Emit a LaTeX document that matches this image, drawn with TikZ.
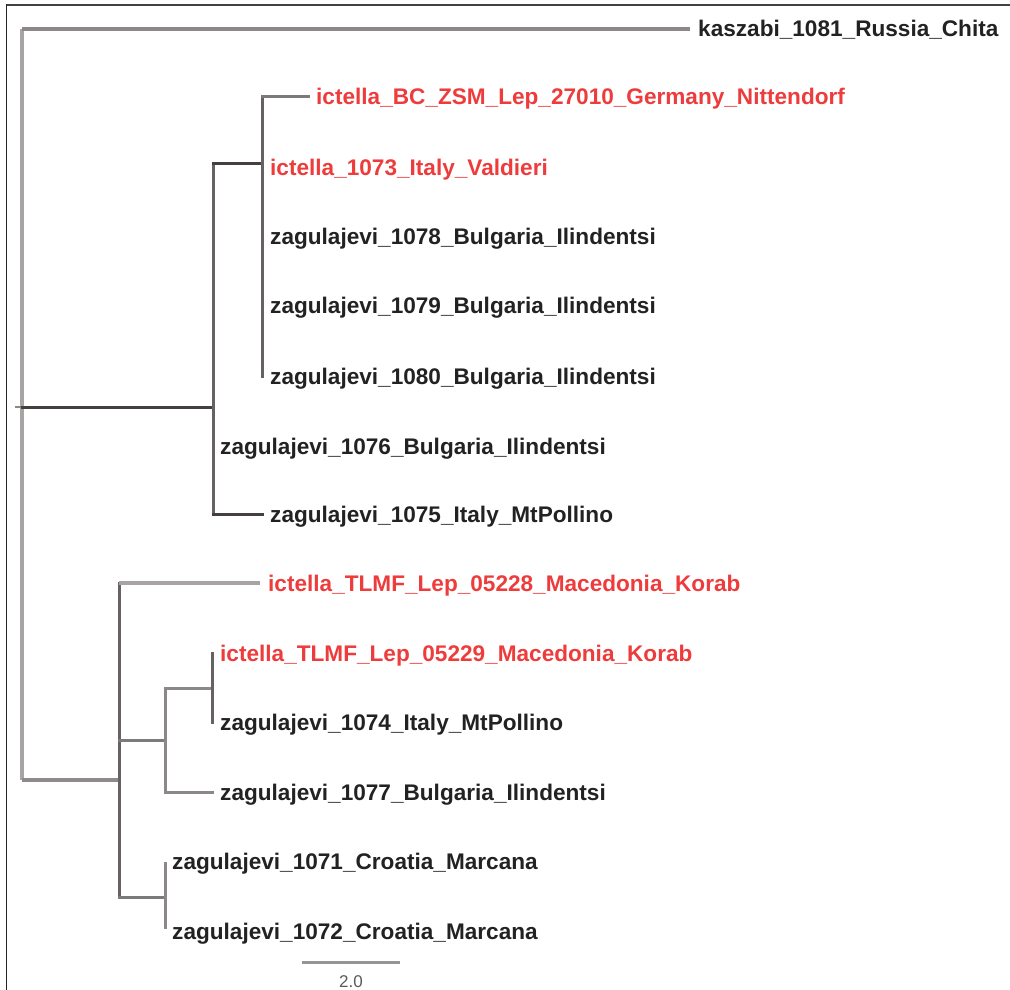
\documentclass[tikz,border=0pt]{standalone}
\usepackage{fontspec}
\setmainfont{Liberation Sans}
\definecolor{tred}{HTML}{EE3B3B}
\definecolor{ttxt}{HTML}{222222}
\definecolor{lgray}{HTML}{A8A4A4}
\definecolor{mgray}{HTML}{8C8888}
\definecolor{dgray}{HTML}{666262}
\definecolor{vdark}{HTML}{444040}
\tikzset{
  br/.style={line width=3pt, line cap=rect},
  leaf/.style={anchor=base west, inner sep=0pt, text=ttxt, font=\fontsize{22.6}{26}\selectfont\bfseries},
  rleaf/.style={leaf, text=tred},
}
\begin{document}
\begin{tikzpicture}[x=1pt,y=-1pt]
\useasboundingbox (0,0) rectangle (1010,990);
% frame
\draw[line width=1.5pt, color=vdark] (6.5,5) -- (1010,5);
\draw[line width=1.8pt, color=black!85] (6.5,4.5) -- (6.5,990);
% internal nodes
\coordinate (stub) at (15,407);
\coordinate (root) at (22,407);
\coordinate (A) at (213,407);
\coordinate (A1) at (262,163);
\coordinate (B) at (119,780);
\coordinate (B1) at (165,740);
\coordinate (B11) at (212,688);
\coordinate (B2) at (165,897);
% leaf tips
\coordinate (tK) at (690,29);
\coordinate (tBC) at (308,97);
\coordinate (t1073) at (262,167);
\coordinate (t1080) at (262,376);
\coordinate (t1076) at (213,446);
\coordinate (t1075) at (262,514);
\coordinate (t05228) at (260,583);
\coordinate (t05229) at (212,653);
\coordinate (t1074) at (212,722);
\coordinate (t1077) at (212,792);
\coordinate (t1071) at (165,863);
\coordinate (t1072) at (165,927);
% labels
\node[leaf]  (lK)     at (698,37)  {kaszabi\_1081\_Russia\_Chita};
\node[rleaf] (lBC)    at (316,105) {ictella\_BC\_ZSM\_Lep\_27010\_Germany\_Nittendorf};
\node[rleaf] (l1073)  at (270,175) {ictella\_1073\_Italy\_Valdieri};
\node[leaf]  (l1078)  at (270,244) {zagulajevi\_1078\_Bulgaria\_Ilindentsi};
\node[leaf]  (l1079)  at (270,313) {zagulajevi\_1079\_Bulgaria\_Ilindentsi};
\node[leaf]  (l1080)  at (270,384) {zagulajevi\_1080\_Bulgaria\_Ilindentsi};
\node[leaf]  (l1076)  at (220,454) {zagulajevi\_1076\_Bulgaria\_Ilindentsi};
\node[leaf]  (l1075)  at (270,522) {zagulajevi\_1075\_Italy\_MtPollino};
\node[rleaf] (l05228) at (268,591) {ictella\_TLMF\_Lep\_05228\_Macedonia\_Korab};
\node[rleaf] (l05229) at (220,661) {ictella\_TLMF\_Lep\_05229\_Macedonia\_Korab};
\node[leaf]  (l1074)  at (220,730) {zagulajevi\_1074\_Italy\_MtPollino};
\node[leaf]  (l1077)  at (220,800) {zagulajevi\_1077\_Bulgaria\_Ilindentsi};
\node[leaf]  (l1071)  at (172,869) {zagulajevi\_1071\_Croatia\_Marcana};
\node[leaf]  (l1072)  at (172,939) {zagulajevi\_1072\_Croatia\_Marcana};
% root
\draw[line width=4pt, color=lgray] (root |- tK) -- (root |- B);
\draw[line width=2.5pt, color=mgray] (stub) -- (root);
\draw[line width=3.5pt, color=mgray] (root |- tK) -- (tK);
\draw[br, color=vdark] (root) -- (A);
\draw[line width=3.5pt, color=lgray!85!black] (root |- B) -- (B);
% clade A
\draw[br, color=dgray] (A |- A1) -- (A |- t1075);
\draw[br, color=vdark] (A |- A1) -- (A1);
\draw[br, color=vdark] (A |- t1075) -- (t1075);
\draw[br, color=dgray] (A1 |- tBC) -- (t1080);
\draw[br, color=dgray!85] (A1 |- tBC) -- (tBC);
% clade B
\draw[br, color=dgray] (B |- t05228) -- (B |- B2);
\draw[line width=4pt, color=lgray] (B |- t05228) -- (t05228);
\draw[br, color=dgray!85] (B |- B1) -- (B1);
\draw[br, color=mgray] (B1 |- B11) -- (B1 |- t1077);
\draw[br, color=mgray] (B1 |- B11) -- (B11);
\draw[br, color=mgray] (B1 |- t1077) -- (t1077);
\draw[br, color=dgray] (t05229) -- (t1074);
\draw[br, color=dgray!85] (B |- B2) -- (B2);
\draw[br, color=mgray] (t1071) -- (t1072);
% scale bar
\coordinate (s1) at (302,962);
\coordinate (s2) at (400,962);
\draw[line width=3pt, color=lgray!90!black] (s1) -- (s2);
\node[anchor=base, inner sep=0pt, text=black!65, font=\fontsize{17}{20}\selectfont] (sl) at (351,987) {2.0};
\end{tikzpicture}
\end{document}
